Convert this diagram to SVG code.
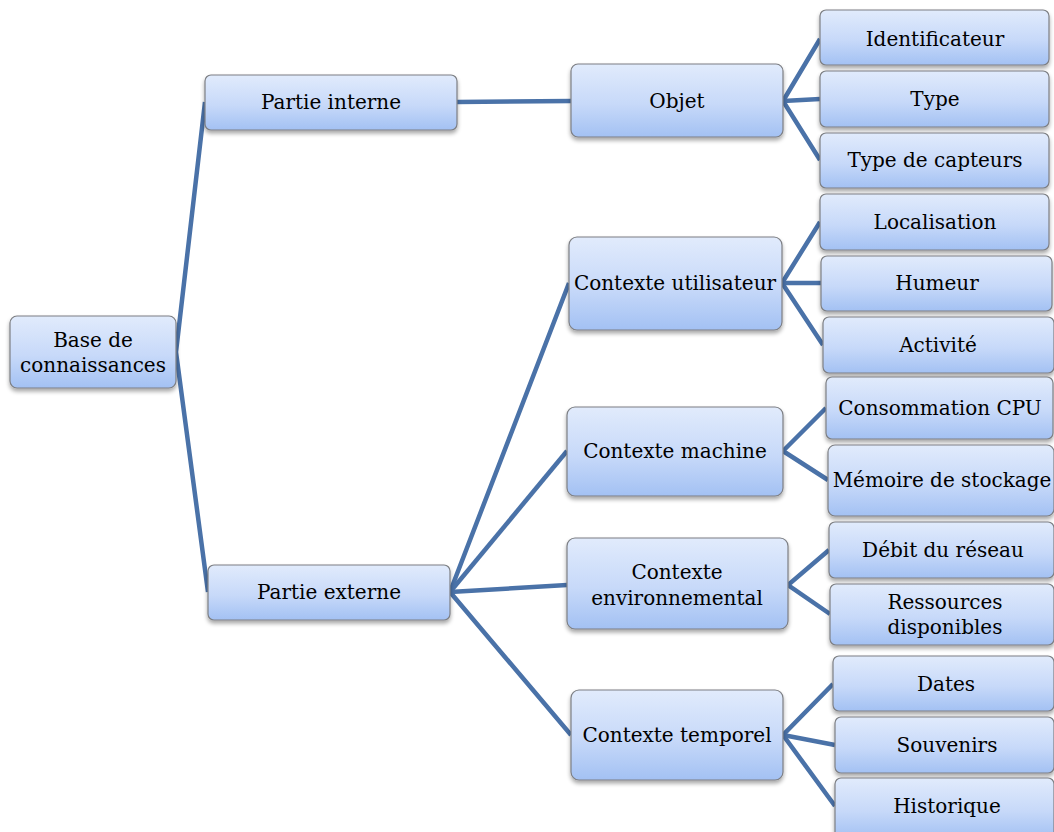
<svg xmlns="http://www.w3.org/2000/svg" width="1054" height="832" viewBox="0 0 1054 832">
  <defs>
    <linearGradient id="boxFill" x1="0" y1="0" x2="0" y2="1">
      <stop offset="0" stop-color="#e1ebfc"/>
      <stop offset="0.55" stop-color="#c7d9f9"/>
      <stop offset="1" stop-color="#a3c1f3"/>
    </linearGradient>
    <filter id="shadow" x="-10%" y="-20%" width="120%" height="150%">
      <feGaussianBlur in="SourceAlpha" stdDeviation="2"/>
      <feOffset dx="0" dy="3" result="b"/>
      <feComponentTransfer><feFuncA type="linear" slope="0.35"/></feComponentTransfer>
      <feMerge><feMergeNode/><feMergeNode in="SourceGraphic"/></feMerge>
    </filter>
  </defs>
  <style>
    .box { fill: url(#boxFill); stroke: #7d7f84; stroke-width: 1.2; filter: url(#shadow); }
    .lbl { font-family: "DejaVu Serif", "Liberation Serif", serif; font-size: 20px; fill: #000; text-anchor: middle; dominant-baseline: central; }
    .link { stroke: #4a72a8; stroke-width: 4.5; fill: none; stroke-linecap: butt; }
  </style>
  <rect width="1054" height="832" fill="#ffffff"/>

  <g id="connectors">
    <polyline class="link" points="205,102 176,352 208,592"/>
    <line class="link" x1="457" y1="102" x2="571" y2="101"/>
    <polyline class="link" points="820,39 783,101 820,160"/>
    <line class="link" x1="783" y1="101" x2="820" y2="99"/>
    <polyline class="link" points="569,283 450,592 571,735"/>
    <line class="link" x1="450" y1="592" x2="567" y2="451"/>
    <line class="link" x1="450" y1="592" x2="567" y2="585"/>
    <polyline class="link" points="820,222 782,283 823,345"/>
    <line class="link" x1="782" y1="283" x2="821" y2="283"/>
    <polyline class="link" points="826,408 783,451 828,480"/>
    <polyline class="link" points="829,550 788,585 830,614"/>
    <polyline class="link" points="833,684 783,735 835,806"/>
    <line class="link" x1="783" y1="735" x2="835" y2="745"/>
  </g>

  <g id="base">
    <rect class="box" x="10" y="316" width="166" height="72" rx="7"/>
    <text class="lbl" x="93" y="340">Base de</text>
    <text class="lbl" x="93" y="365">connaissances</text>
  </g>

  <g id="partie-interne">
    <rect class="box" x="205" y="75" width="252" height="55" rx="6"/>
    <text class="lbl" x="331" y="102">Partie interne</text>
  </g>
  <g id="partie-externe">
    <rect class="box" x="208" y="565" width="242" height="55" rx="6"/>
    <text class="lbl" x="329" y="592">Partie externe</text>
  </g>

  <g id="objet">
    <rect class="box" x="571" y="64" width="212" height="73" rx="7"/>
    <text class="lbl" x="677" y="101">Objet</text>
  </g>
  <g id="contexte-utilisateur">
    <rect class="box" x="569" y="237" width="213" height="93" rx="8"/>
    <text class="lbl" x="675" y="283">Contexte utilisateur</text>
  </g>
  <g id="contexte-machine">
    <rect class="box" x="567" y="407" width="216" height="89" rx="8"/>
    <text class="lbl" x="675" y="451">Contexte machine</text>
  </g>
  <g id="contexte-environnemental">
    <rect class="box" x="567" y="538" width="221" height="91" rx="8"/>
    <text class="lbl" x="677" y="572">Contexte</text>
    <text class="lbl" x="677" y="598">environnemental</text>
  </g>
  <g id="contexte-temporel">
    <rect class="box" x="571" y="690" width="212" height="90" rx="8"/>
    <text class="lbl" x="677" y="735">Contexte temporel</text>
  </g>

  <g id="identificateur">
    <rect class="box" x="820" y="10" width="229" height="55" rx="6"/>
    <text class="lbl" x="935" y="39">Identificateur</text>
  </g>
  <g id="type">
    <rect class="box" x="820" y="71" width="229" height="56" rx="6"/>
    <text class="lbl" x="935" y="99">Type</text>
  </g>
  <g id="type-capteurs">
    <rect class="box" x="820" y="133" width="229" height="55" rx="6"/>
    <text class="lbl" x="935" y="160">Type de capteurs</text>
  </g>
  <g id="localisation">
    <rect class="box" x="820" y="194" width="229" height="56" rx="6"/>
    <text class="lbl" x="935" y="222">Localisation</text>
  </g>
  <g id="humeur">
    <rect class="box" x="821" y="256" width="231" height="55" rx="6"/>
    <text class="lbl" x="937" y="283">Humeur</text>
  </g>
  <g id="activite">
    <rect class="box" x="823" y="317" width="231" height="56" rx="6"/>
    <text class="lbl" x="938" y="345">Activité</text>
  </g>
  <g id="consommation-cpu">
    <rect class="box" x="826" y="377" width="227" height="62" rx="6"/>
    <text class="lbl" x="940" y="408">Consommation CPU</text>
  </g>
  <g id="memoire-stockage">
    <rect class="box" x="828" y="445" width="226" height="71" rx="7"/>
    <text class="lbl" x="942" y="480">Mémoire de stockage</text>
  </g>
  <g id="debit-reseau">
    <rect class="box" x="829" y="522" width="225" height="56" rx="6"/>
    <text class="lbl" x="943" y="550">Débit du réseau</text>
  </g>
  <g id="ressources">
    <rect class="box" x="830" y="584" width="224" height="61" rx="6"/>
    <text class="lbl" x="945" y="602">Ressources</text>
    <text class="lbl" x="945" y="627">disponibles</text>
  </g>
  <g id="dates">
    <rect class="box" x="833" y="656" width="221" height="55" rx="6"/>
    <text class="lbl" x="946" y="684">Dates</text>
  </g>
  <g id="souvenirs">
    <rect class="box" x="835" y="717" width="219" height="56" rx="6"/>
    <text class="lbl" x="947" y="745">Souvenirs</text>
  </g>
  <g id="historique">
    <rect class="box" x="835" y="778" width="219" height="60" rx="6"/>
    <text class="lbl" x="947" y="806">Historique</text>
  </g>
</svg>
